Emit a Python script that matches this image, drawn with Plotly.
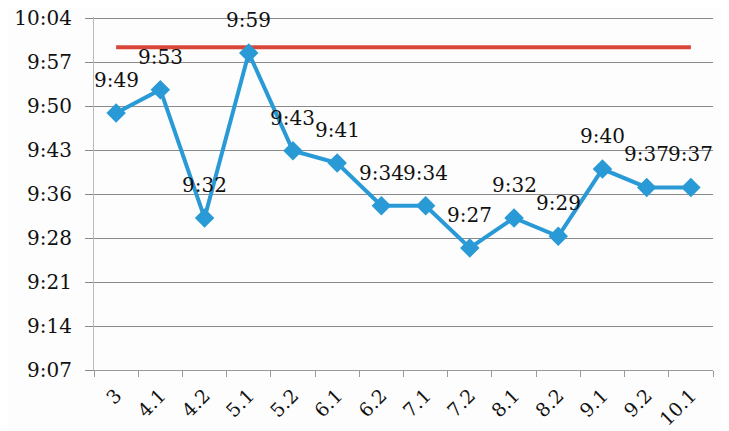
import plotly.graph_objects as go

categories = ["3", "4.1", "4.2", "5.1", "5.2", "6.1", "6.2", "7.1", "7.2", "8.1", "8.2", "9.1", "9.2", "10.1"]
times = ["9:49:15", "9:53:05", "9:32:05", "9:59:05", "9:43:05", "9:41:05", "9:34:05",
         "9:34:05", "9:27:10", "9:32:05", "9:29:05", "9:40:05", "9:37:05", "9:37:05"]
target_times = ["10:00:00"] * len(categories)
ytick_labels = ["9:07", "9:14", "9:21", "9:28", "9:36", "9:43", "9:50", "9:57", "10:04"]


def to_min(s):
    p = [int(v) for v in s.split(":")]
    return p[0] * 60 + p[1] + (p[2] if len(p) > 2 else 0) / 60.0


def fmt(m):
    h = int(m // 60)
    mm = int(m - h * 60)
    return f"{h}:{mm:02d}"


y = [to_min(t) for t in times]
target = [to_min(t) for t in target_times]
ymin = 0.38 * 24 * 60
step = 0.005 * 24 * 60
tickvals = [ymin + i * step for i in range(len(ytick_labels))]

FONT = "DejaVu Serif"
BLUE = "#2a9ad6"

fig = go.Figure()
fig.add_trace(go.Scatter(x=categories, y=target, mode="lines",
                         line=dict(color="#d8463a", width=4), hoverinfo="skip"))
fig.add_trace(go.Scatter(x=categories, y=y, mode="lines+markers",
                         line=dict(color=BLUE, width=4),
                         marker=dict(symbol="diamond", size=15, color=BLUE)))

for i, v in enumerate(y):
    fig.add_annotation(x=i, y=v, text=fmt(v), showarrow=False, yshift=33,
                       font=dict(family=FONT, size=20, color="#111"))

fig.update_layout(
    width=721, height=423,
    margin=dict(l=86, r=16, t=9, b=61),
    paper_bgcolor="#fdfdfd", plot_bgcolor="#fdfdfd",
    showlegend=False,
    font=dict(family=FONT, color="#111"),
)
fig.update_xaxes(
    type="category", tickson="boundaries", ticks="outside", ticklen=6,
    tickcolor="#999", showline=True, linecolor="#999", linewidth=1,
    showgrid=False, tickangle=-45, tickfont=dict(family=FONT, size=19),
    range=[-0.5, len(categories) - 0.5], automargin=False, ticklabelstandoff=6,
)
fig.update_yaxes(
    range=[ymin, ymin + step * 8 + 0.17], tickvals=tickvals, ticktext=ytick_labels,
    ticks="outside", ticklen=8, tickcolor="#888", showgrid=True,
    gridcolor="#8a8a8a", gridwidth=1, showline=True, linecolor="#bbb",
    zeroline=False, tickfont=dict(family=FONT, size=20), ticklabelstandoff=9,
    automargin=False, ticklabeloverflow="allow",
)

fig.write_html("out.html")
